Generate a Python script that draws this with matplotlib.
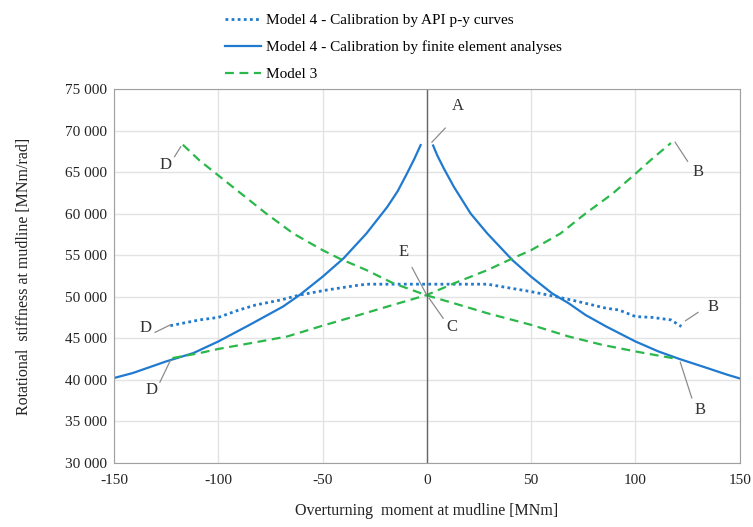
import matplotlib.pyplot as plt
from matplotlib.ticker import FuncFormatter

plt.rcParams['font.family'] = ['Liberation Serif', 'DejaVu Serif']
plt.rcParams['axes.unicode_minus'] = False

# Model 4 - calibration by finite element analyses (solid)
fe_left_x = [-150, -141, -125, -112, -100, -85, -69, -61, -50, -40, -29, -19, -14, -9.6, -6, -3]
fe_left_y = [40200, 40800, 42200, 43200, 44600, 46600, 48800, 50200, 52400, 54600, 57600, 60800, 62700, 64800,
             66600, 68250]
fe_right_x = [3, 5, 8, 13, 21, 29, 41, 50, 60, 68, 76, 86, 100, 111, 121, 132, 144, 150]
fe_right_y = [68200, 67000, 65500, 63200, 60000, 57600, 54400, 52400, 50400, 49200, 47800, 46400, 44600, 43400,
              42500, 41600, 40600, 40150]

# Model 4 - calibration by API p-y curves (dotted)
api_x = [-123, -109, -100, -90, -82, -70, -61, -48, -35, -29, -13, 0, 29, 36, 50, 60, 71, 86, 92, 100, 108, 117, 122]
api_y = [46500, 47200, 47500, 48400, 49000, 49600, 50200, 50800, 51300, 51500, 51500, 51500, 51500, 51200, 50600,
         50100, 49500, 48600, 48400, 47600, 47500, 47200, 46400]

# Model 3 (dashed), deux courbes
m3a_x = [-117, -109, -93, -77, -64, -50, -42, -29, -16, 0, 13, 29, 50, 68, 84, 100, 111, 120]
m3a_y = [68300, 66400, 63200, 60000, 57600, 55600, 54600, 53200, 51600, 50150, 49200, 48000, 46600, 45200, 44200,
         43400, 42900, 42500]
m3b_x = [-122, -109, -100, -80, -67, -50, -35, -19, 0, 13, 29, 41, 50, 64, 76, 89, 100, 108, 117]
m3b_y = [42600, 43200, 43700, 44600, 45200, 46500, 47600, 48800, 50200, 51600, 53200, 54600, 55600, 57600, 60000,
         62400, 64800, 66600, 68500]

# Etiquettes: (texte, x texte, y texte, x1, y1, x2, y2)
labels = [
    ("A", 15, 72900, 2.4, 68600, 8.8, 70300),
    ("B", 130, 65000, 119, 68600, 125, 66300),
    ("B", 137, 48800, 124, 47100, 130, 48100),
    ("B", 131, 36300, 121.5, 42100, 127, 37800),
    ("C", 12, 46300, 1.1, 49800, 7.8, 47400),
    ("E", -11.4, 55400, -7.1, 53500, -0.3, 50300),
    ("D", -125.5, 65900, -121, 66850, -118, 68050),
    ("D", -135, 46200, -130.3, 45700, -123, 46600),
    ("D", -132, 38700, -128, 39700, -123, 42300),
]

blue = '#1f7ad0'
green = '#2bb84b'

fig = plt.figure(figsize=(7.53, 5.27), dpi=100)
ax = fig.add_axes([0.1514, 0.122, 0.831, 0.709])

l1, = ax.plot(api_x, api_y, color=blue, linestyle=(0, (1, 1.2)), linewidth=2,
              label="Model 4 - Calibration by API p-y curves")
l2, = ax.plot(fe_left_x, fe_left_y, color=blue, linewidth=1.6,
              label="Model 4 - Calibration by finite element analyses")
ax.plot(fe_right_x, fe_right_y, color=blue, linewidth=1.6)
l3, = ax.plot(m3a_x, m3a_y, color=green, linestyle=(0, (4, 2.5)), linewidth=1.6, label="Model 3")
ax.plot(m3b_x, m3b_y, color=green, linestyle=(0, (4, 2.5)), linewidth=1.6)

ax.axvline(0, color='#666666', linewidth=1)

for txt, tx, ty, x1, y1, x2, y2 in labels:
    ax.plot([x1, x2], [y1, y2], color='#8c8c8c', linewidth=0.9)
    ax.text(tx, ty, txt, fontsize=12, color='#333333', ha='center', va='center')

ax.set_xlim(-150, 150)
ax.set_ylim(30000, 75000)
ax.set_xticks(range(-150, 151, 50))
ax.set_yticks(range(30000, 75001, 5000))
ax.yaxis.set_major_formatter(FuncFormatter(lambda v, p: f"{int(v):,}".replace(",", " ")))
ax.grid(color='#e3e3e3', linewidth=1)
ax.set_axisbelow(True)
for s in ax.spines.values():
    s.set_color('#a0a0a0')
ax.tick_params(length=0, labelsize=11, colors='#222222')
ax.tick_params(axis='x', pad=8)
ax.tick_params(axis='y', pad=5)

ax.set_xlabel("Overturning  moment at mudline [MNm]", fontsize=11.5, color='#222222', labelpad=12)
ax.set_ylabel("Rotational  stiffness at mudline [MNm/rad]", fontsize=11.5, color='#222222', labelpad=24)

fig.legend(handles=[l1, l2, l3], loc='upper left', bbox_to_anchor=(0.28, 1.0), frameon=False,
           fontsize=11, handlelength=2.4, handletextpad=0.3, labelspacing=0.85)

fig.savefig("out.png", dpi=100)
